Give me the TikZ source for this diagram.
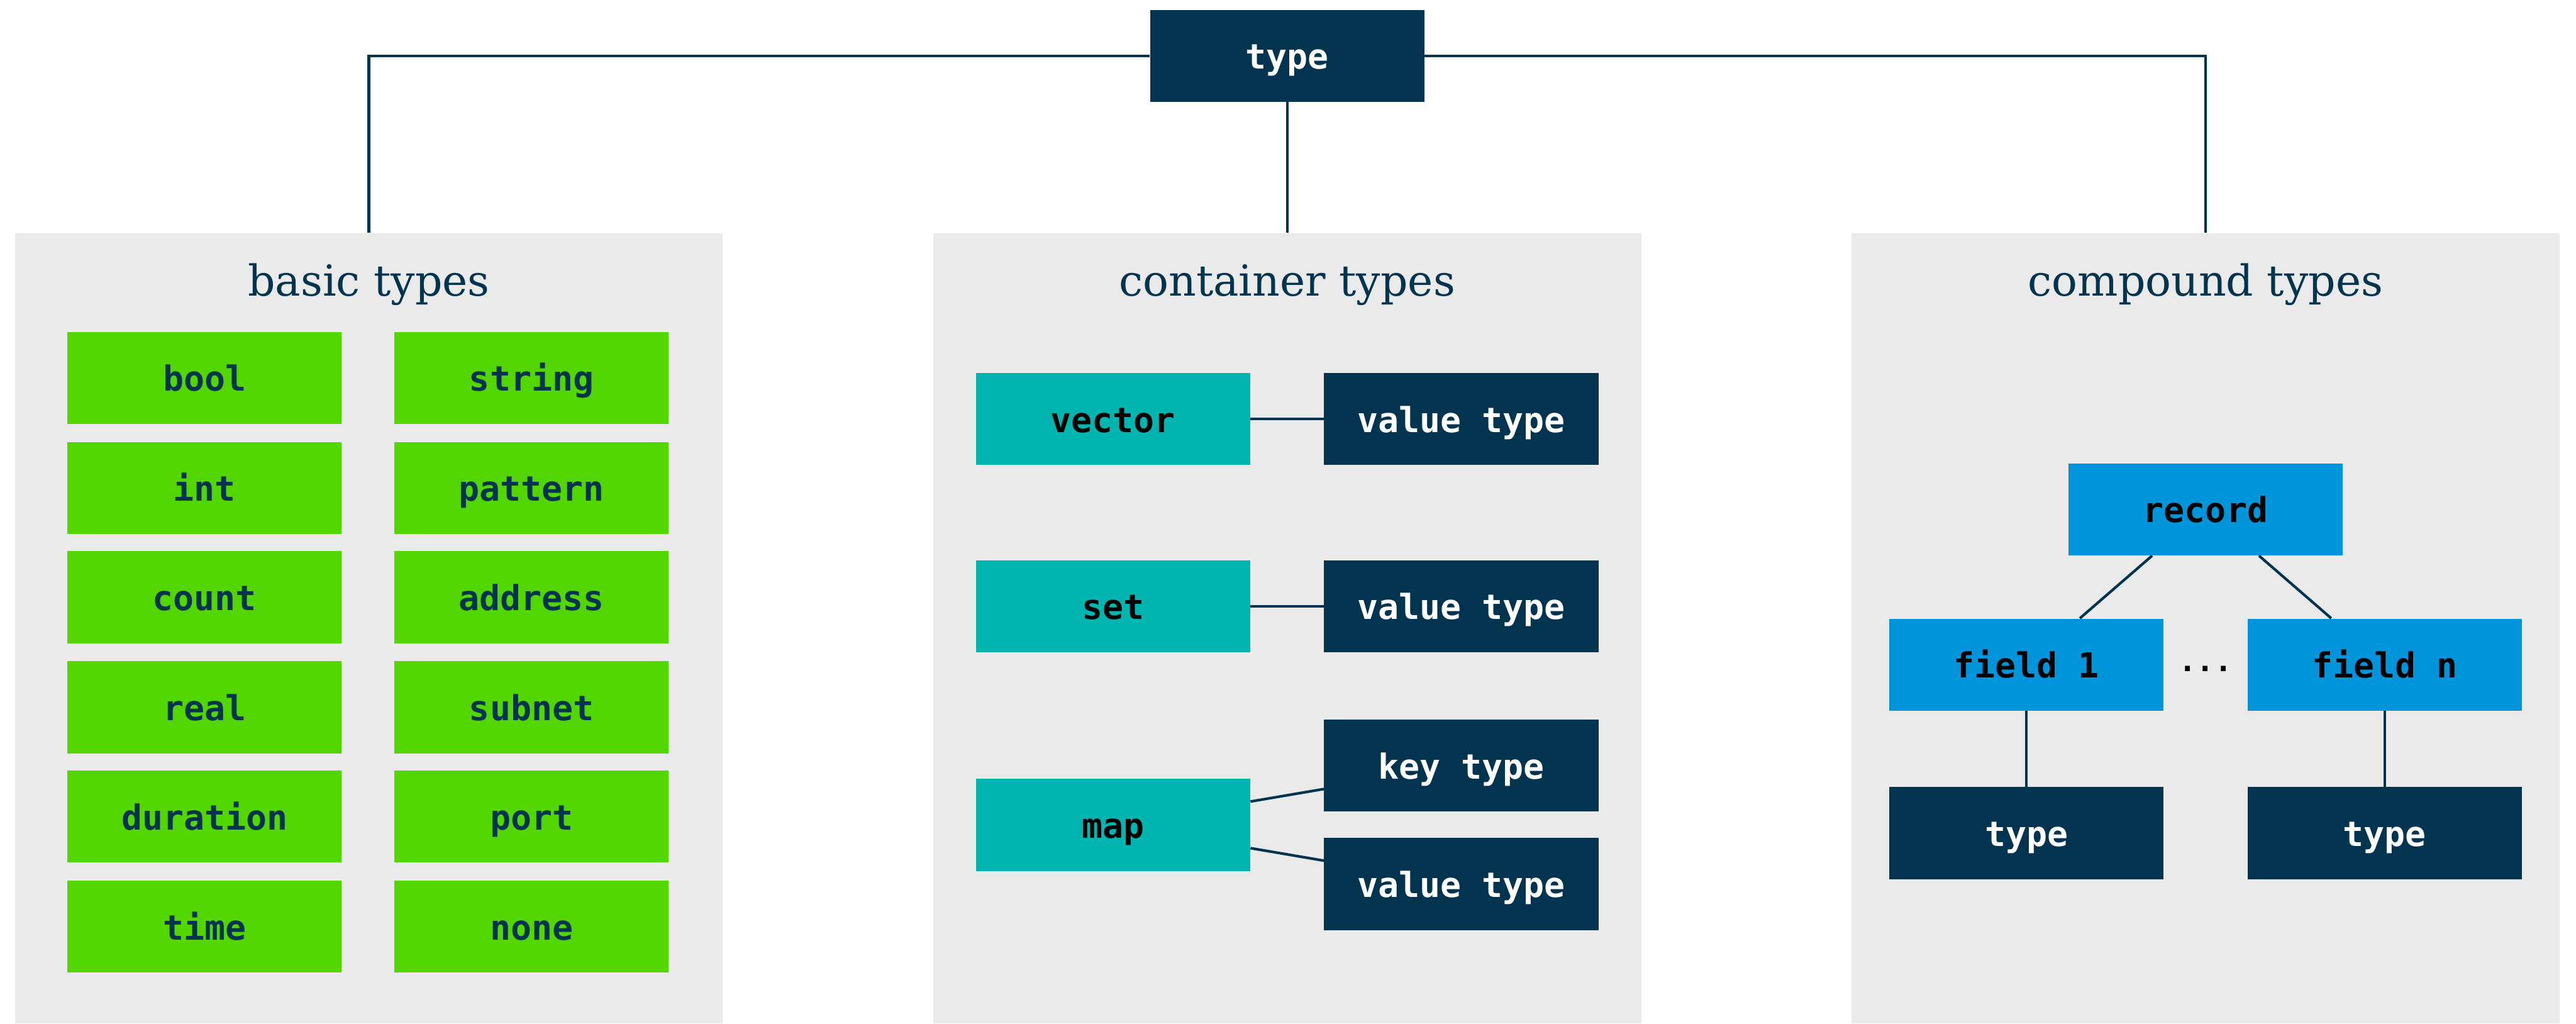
\documentclass[tikz,border=0pt]{standalone}
\usepackage{fontspec}
\setmainfont{DejaVu Serif}
\setmonofont{DejaVu Sans Mono}
\definecolor{navy}{HTML}{03344F}
\definecolor{grass}{HTML}{53D600}
\definecolor{teal}{HTML}{00B5B0}
\definecolor{sky}{HTML}{0095DB}
\definecolor{panelgrey}{HTML}{EAEAEA}

\begin{document}
\begin{tikzpicture}[x = 1pt, y = -1pt,
        every node/.style={rectangle, inner sep=0pt, minimum width = 167pt, minimum height = 56pt,
            text height=16pt, text depth=0pt, font=\fontsize{21}{25}\selectfont\ttfamily\bfseries},
        basic/.style={fill=grass, text=navy},
        container/.style={fill=teal, text=black},
        compound/.style={fill=sky, text=black},
        inner/.style={fill=navy, text=white},
        panel/.style={fill=panelgrey, minimum width = 431pt, minimum height = 481pt},
        title/.style={anchor=base, minimum size=0pt, text height=, text depth=, text=navy,
            font=\fontsize{26}{30}\selectfont\rmfamily},
        link/.style={draw=navy, line width=1.6pt}
]
    \useasboundingbox (0,0) rectangle (1568,623);

    % the three groups
    \node[panel] (basicpanel) at (224.5,382.5) {};
    \node[panel] (containerpanel) at (783.5,382.5) {};
    \node[panel] (compoundpanel) at (1342.5,382.5) {};
    \node[title] (basictitle) at (224.5,180) {basic types};
    \node[title] (containertitle) at (783.5,180) {container types};
    \node[title] (compoundtitle) at (1342.5,180) {compound types};

    \node[inner] (type) at (783.5,34) {type};

    % basic types
    \node[basic] (bool) at (124.5,230) {bool};
    \node[basic] (int) at (124.5,297) {int};
    \node[basic] (count) at (124.5,363.5) {count};
    \node[basic] (real) at (124.5,430.5) {real};
    \node[basic] (duration) at (124.5,497) {duration};
    \node[basic] (time) at (124.5,564) {time};
    \node[basic] (string) at (323.5,230) {string};
    \node[basic] (pattern) at (323.5,297) {pattern};
    \node[basic] (address) at (323.5,363.5) {address};
    \node[basic] (subnet) at (323.5,430.5) {subnet};
    \node[basic] (port) at (323.5,497) {port};
    \node[basic] (none) at (323.5,564) {none};

    % container types
    \node[container] (vector) at (677.5,255) {vector};
    \node[inner] (vectorval) at (889.5,255) {value type};
    \node[container] (set) at (677.5,369) {set};
    \node[inner] (setval) at (889.5,369) {value type};
    \node[container] (map) at (677.5,502) {map};
    \node[inner] (mapkey) at (889.5,466) {key type};
    \node[inner] (mapval) at (889.5,538) {value type};

    % compound types
    \node[compound] (record) at (1342.5,310) {record};
    \node[compound] (field1) at (1233.5,404.5) {field 1};
    \node[compound] (fieldn) at (1451.5,404.5) {field n};
    \node[minimum size=0pt, text height=, text depth=, font=\fontsize{18}{20}\selectfont\ttfamily\bfseries] (dots) at (1342.5,407) {...};
    \node[inner] (type1) at (1233.5,507) {type};
    \node[inner] (typen) at (1451.5,507) {type};

\begin{scope}[every path/.style={link}]
    \draw (type.west) -| (basicpanel.north);
    \draw (type.east) -| (compoundpanel.north);
    \draw (type) -- (containerpanel.north);
    \draw (vector) -- (vectorval);
    \draw (set) -- (setval);
    \draw (map) -- (mapkey);
    \draw (map) -- (mapval);
    \draw (record) -- (field1);
    \draw (record) -- (fieldn);
    \draw (field1) -- (type1);
    \draw (fieldn) -- (typen);
\end{scope}

\end{tikzpicture}
\end{document}
